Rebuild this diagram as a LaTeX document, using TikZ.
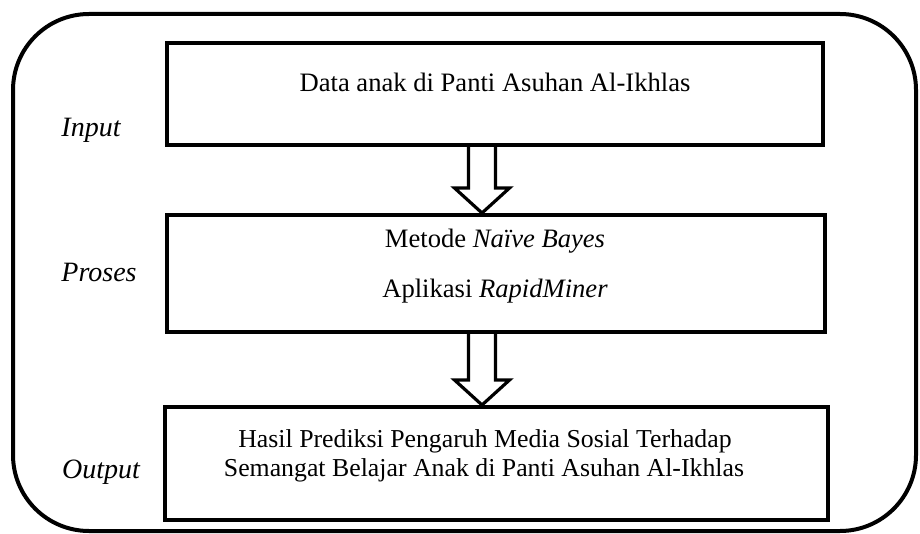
\documentclass[tikz,border=0pt]{standalone}
\usepackage{fontspec}
\setmainfont{Liberation Serif}
\usetikzlibrary{calc}
\begin{document}
\begin{tikzpicture}[x=0.5pt,y=-0.5pt,
  frame/.style={draw,line width=2pt,rounded corners=38pt},
  stagebox/.style={draw,line width=2pt,inner sep=0pt,rectangle},
  txt/.style={anchor=base,inner sep=0pt,font=\fontsize{13.3}{16}\selectfont},
  txtb/.style={anchor=base,inner sep=0pt,font=\fontsize{12.9}{16}\selectfont},
  lbl/.style={anchor=base,inner sep=0pt,font=\fontsize{14}{16}\selectfont\itshape},
  blockarrow/.style={draw,line width=1.6pt,line join=miter}]
\useasboundingbox (0,0) rectangle (920,534);
\draw[frame] (13,14) rectangle (916,531);
\node[stagebox,minimum width=328pt,minimum height=51pt] (b1) at (495,94) {};
\node[stagebox,minimum width=329pt,minimum height=58.5pt] (b2) at (496,273.5) {};
\node[stagebox,minimum width=331.5pt,minimum height=56.5pt] (b3) at (496.5,463.5) {};
\node[txt] (t1) at (495,92) {Data anak di Panti Asuhan Al-Ikhlas};
\node[txt] (t2) at (495,248) {Metode \textit{Naïve Bayes}};
\node[txt] (t3) at (495,297) {Aplikasi \textit{RapidMiner}};
\node[txtb] (t4) at (485,447) {Hasil Prediksi Pengaruh Media Sosial Terhadap};
\node[txtb] (t5) at (484,476) {Semangat Belajar Anak di Panti Asuhan Al-Ikhlas};
\node[lbl] (l1) at (91,137) {Input};
\node[lbl] (l2) at (99,281) {Proses};
\node[lbl] (l3) at (101,478) {Output};
\coordinate (a1s) at ($(b1.south)+(-13,0)$);
\coordinate (a1t) at ($(b2.north)+(-14,0)$);
\coordinate (a2s) at ($(b2.south)+(-14,0)$);
\coordinate (a2t) at ($(b3.north)+(-14.5,0)$);
\draw[blockarrow] ($(a1s)+(-13.5,0)$) -- ($(a1t)+(-13.5,-25)$) -- ($(a1t)+(-27.5,-25)$) -- (a1t)
  -- ($(a1t)+(27.5,-25)$) -- ($(a1t)+(13.5,-25)$) -- ($(a1s)+(13.5,0)$);
\draw[blockarrow] ($(a2s)+(-13.5,0)$) -- ($(a2t)+(-13.5,-25)$) -- ($(a2t)+(-27.5,-25)$) -- (a2t)
  -- ($(a2t)+(27.5,-25)$) -- ($(a2t)+(13.5,-25)$) -- ($(a2s)+(13.5,0)$);
\end{tikzpicture}
\end{document}
